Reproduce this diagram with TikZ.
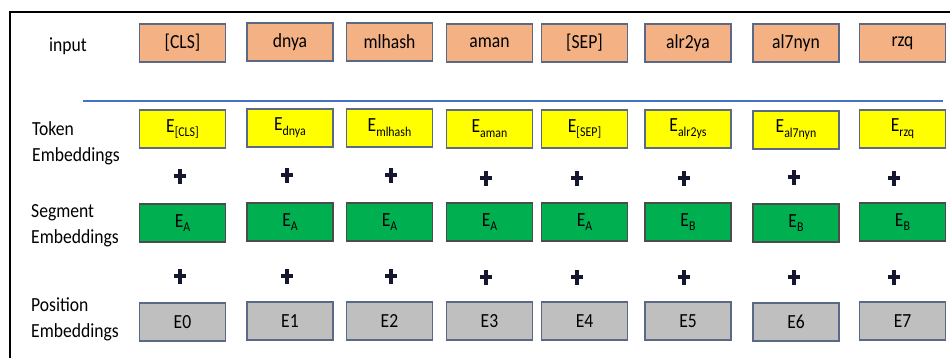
\documentclass[tikz,border=0pt]{standalone}
\usepackage{fontspec}
\setmainfont{Carlito}[FakeStretch=0.88]
\definecolor{inputfill}{HTML}{F4B183}
\definecolor{boxline}{HTML}{5A6A86}
\definecolor{tokfill}{HTML}{FFFF00}
\definecolor{segfill}{HTML}{00B050}
\definecolor{posfill}{HTML}{BFBFBF}
\definecolor{rulecol}{HTML}{4472C4}
\definecolor{plusc}{HTML}{15172E}
\newcommand\Esub[1]{E\raisebox{-0.5ex}{\fontsize{13.5}{14}\selectfont #1}}
\tikzset{
  emb/.style={draw=boxline, line width=1.1pt, minimum width=86pt, minimum height=38pt, inner sep=0pt, font=\fontsize{20}{22}\selectfont, anchor=center},
  inbox/.style={emb, fill=inputfill},
  tokbox/.style={emb, fill=tokfill},
  segbox/.style={emb, fill=segfill, draw=black!70},
  posbox/.style={emb, fill=posfill},
  rowlabel/.style={align=left, anchor=west, inner sep=0pt, font=\fontsize{20}{26}\selectfont},
  plussign/.style={inner sep=0pt, minimum width=12pt, minimum height=15pt,
    path picture={
      \fill[plusc] ([xshift=-2pt]path picture bounding box.north) rectangle ([xshift=2pt]path picture bounding box.south);
      \fill[plusc] ([yshift=2.5pt]path picture bounding box.west) rectangle ([yshift=-1.5pt]path picture bounding box.east);
    }}
}
\begin{document}
\begin{tikzpicture}[x=1pt,y={(0pt,-1pt)}]
\useasboundingbox (0,0) rectangle (950,358);
\fill[white] (0,0) rectangle (950,358);
% frame
\coordinate (ftl) at (9.5,12);
\coordinate (ftr) at (950,12);
\coordinate (fbl) at (9.5,358);
\draw[line width=2pt] (ftr) -- (ftl) -- (fbl);
% row labels
\node[rowlabel] (linput) at (49,46) {input};
\node[rowlabel] (ltok) at (32,143) {Token\\Embeddings};
\node[rowlabel] (lseg) at (31,226) {Segment\\Embeddings};
\node[rowlabel] (lpos) at (31,319) {Position\\Embeddings};
% separator rule
\coordinate (rl) at (83,101);
\coordinate (rr) at (943,101);
\draw[rulecol, line width=1.6pt] (rl) -- (rr);
% input row
\node[inbox] (i1) at (182.5,43) {[CLS]};
\node[inbox] (i2) at (290,42) {dnya};
\node[inbox] (i3) at (389.5,42) {mlhash};
\node[inbox] (i4) at (489.5,43) {aman};
\node[inbox] (i5) at (584.5,43) {[SEP]};
\node[inbox] (i6) at (688,43) {alr2ya};
\node[inbox] (i7) at (796,43) {al7nyn};
\node[inbox] (i8) at (902.5,43) {rzq};
% token row
\node[tokbox] (t1) at (182.5,129) {\Esub{[CLS]}};
\node[tokbox] (t2) at (290,128) {\Esub{dnya}};
\node[tokbox] (t3) at (389.5,128) {\Esub{mlhash}};
\node[tokbox] (t4) at (489.5,129) {\Esub{aman}};
\node[tokbox] (t5) at (584.5,129) {\Esub{[SEP]}};
\node[tokbox] (t6) at (688,129) {\Esub{alr2ys}};
\node[tokbox] (t7) at (796,130) {\Esub{al7nyn}};
\node[tokbox] (t8) at (902.5,129) {\Esub{rzq}};
% plus row 1
\node[plussign] (pa1) at (180,177) {};
\node[plussign] (pa2) at (287,176) {};
\node[plussign] (pa3) at (391,176) {};
\node[plussign] (pa4) at (486,179) {};
\node[plussign] (pa5) at (577,179) {};
\node[plussign] (pa6) at (684,179) {};
\node[plussign] (pa7) at (794,178) {};
\node[plussign] (pa8) at (894,179) {};
% segment row
\node[segbox] (s1) at (182.5,223) {\Esub{A}};
\node[segbox] (s2) at (290,222) {\Esub{A}};
\node[segbox] (s3) at (389.5,222) {\Esub{A}};
\node[segbox] (s4) at (489.5,222) {\Esub{A}};
\node[segbox] (s5) at (584.5,222) {\Esub{A}};
\node[segbox] (s6) at (688,222) {\Esub{B}};
\node[segbox] (s7) at (796,223) {\Esub{B}};
\node[segbox] (s8) at (902.5,222) {\Esub{B}};
% plus row 2
\node[plussign] (pb1) at (180,276) {};
\node[plussign] (pb2) at (287,276) {};
\node[plussign] (pb3) at (391,276) {};
\node[plussign] (pb4) at (486,277) {};
\node[plussign] (pb5) at (577,277) {};
\node[plussign] (pb6) at (684,277) {};
\node[plussign] (pb7) at (794,277) {};
\node[plussign] (pb8) at (894,277) {};
% position row
\node[posbox] (q1) at (182.5,322) {E0};
\node[posbox] (q2) at (290,321) {E1};
\node[posbox] (q3) at (389.5,321) {E2};
\node[posbox] (q4) at (489.5,321) {E3};
\node[posbox] (q5) at (584.5,321) {E4};
\node[posbox] (q6) at (688,321) {E5};
\node[posbox] (q7) at (796,322) {E6};
\node[posbox] (q8) at (902.5,321) {E7};
\end{tikzpicture}
\end{document}
